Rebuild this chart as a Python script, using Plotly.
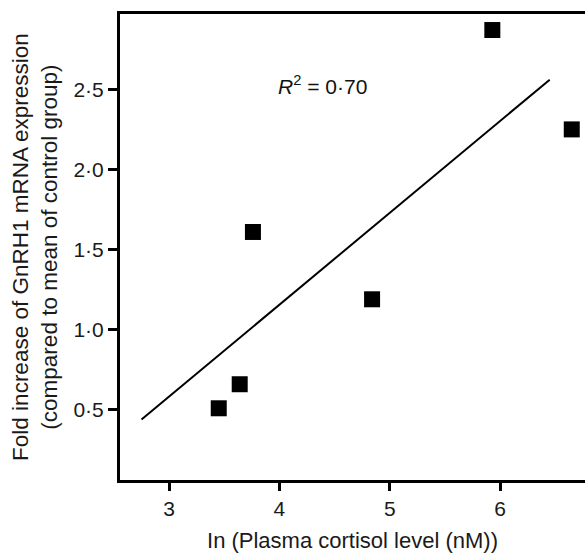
import plotly.graph_objects as go

# Data
cortisol_ln = [3.45, 3.64, 3.76, 4.84, 5.93, 6.65]
gnrh1_fold = [0.51, 0.66, 1.61, 1.19, 2.87, 2.25]

fit_x = [2.75, 6.45]
fit_y = [0.44, 2.56]

x_tickvals = [3, 4, 5, 6]
x_ticktext = ["3", "4", "5", "6"]
y_tickvals = [0.5, 1.0, 1.5, 2.0, 2.5]
y_ticktext = ["0·5", "1·0", "1·5", "2·0", "2·5"]

FONT = "Liberation Sans, Arial, Helvetica, sans-serif"

fig = go.Figure()
fig.add_trace(go.Scatter(x=fit_x, y=fit_y, mode="lines",
                         line=dict(color="black", width=2), showlegend=False,
                         hoverinfo="skip"))
fig.add_trace(go.Scatter(x=cortisol_ln, y=gnrh1_fold, mode="markers",
                         marker=dict(symbol="square", size=16, color="black"),
                         showlegend=False))

fig.add_annotation(x=3.97, y=2.525, xref="x", yref="y", xanchor="left", yanchor="middle",
                   text="<i>R</i><sup>2</sup> = 0·70", showarrow=False,
                   font=dict(family=FONT, size=21, color="#111111"))

fig.add_annotation(x=-0.183, y=0.5, xref="paper", yref="paper", xanchor="center", yanchor="middle",
                   text="Fold increase of GnRH1 mRNA expression<br>(compared to mean of control group)",
                   textangle=-90, showarrow=False,
                   font=dict(family=FONT, size=22.5, color="#1a1a1a"))

fig.update_layout(
    width=585, height=554,
    margin=dict(l=120, r=0, t=14, b=74),
    paper_bgcolor="white", plot_bgcolor="white",
    font=dict(family=FONT, size=21, color="#1a1a1a"),
    xaxis=dict(range=[2.555, 6.77], tickvals=x_tickvals, ticktext=x_ticktext,
               showgrid=False, zeroline=False, showline=True, linecolor="black",
               linewidth=3, mirror=True, ticks="outside", ticklen=8, tickwidth=3,
               tickcolor="black",
               title=dict(text="In (Plasma cortisol level (nM))",
                          font=dict(family=FONT, size=22, color="#1a1a1a"), standoff=14)),
    yaxis=dict(range=[0.0625, 2.97], tickvals=y_tickvals, ticktext=y_ticktext,
               showgrid=False, zeroline=False, showline=True, linecolor="black",
               linewidth=3, mirror=False, ticks="outside", ticklen=9, tickwidth=3,
               tickcolor="black"),
)

fig.write_html("out.html", config={"displayModeBar": False},
               post_script="document.body.style.margin='0';document.body.style.overflow='hidden';")
